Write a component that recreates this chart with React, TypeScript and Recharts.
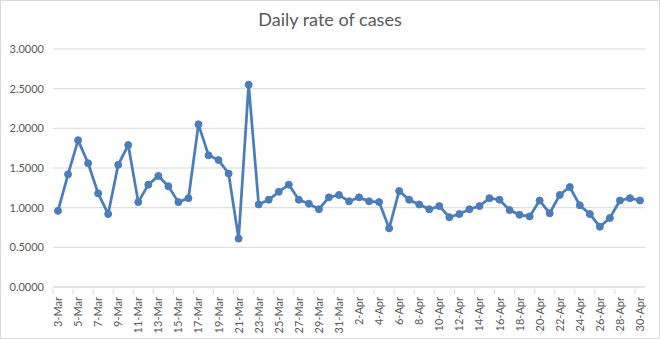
import React from 'react'
import { LineChart, Line, XAxis, YAxis, CartesianGrid } from 'recharts'

// Daily rate of cases, 3-Mar to 30-Apr
const MARCH_DAYS = [3, 4, 5, 6, 7, 8, 9, 10, 11, 12, 13, 14, 15, 16, 17, 18, 19, 20, 21, 22, 23, 24, 25, 26, 27, 28, 29, 30, 31]
const APRIL_DAYS = [1, 2, 3, 4, 5, 6, 7, 8, 9, 10, 11, 12, 13, 14, 15, 16, 17, 18, 19, 20, 21, 22, 23, 24, 25, 26, 27, 28, 29, 30]

const MARCH_RATES = [
  0.96, 1.42, 1.85, 1.56, 1.18, 0.92, 1.54, 1.79, 1.07, 1.29,
  1.4, 1.27, 1.07, 1.12, 2.05, 1.66, 1.6, 1.43, 0.61, 2.55,
  1.04, 1.1, 1.2, 1.29, 1.1, 1.05, 0.98, 1.13, 1.16,
]
const APRIL_RATES = [
  1.08, 1.13, 1.08, 1.07, 0.74, 1.21, 1.1, 1.04, 0.98, 1.02,
  0.88, 0.92, 0.98, 1.02, 1.12, 1.1, 0.97, 0.91, 0.89, 1.09,
  0.93, 1.16, 1.26, 1.03, 0.92, 0.76, 0.87, 1.09, 1.12, 1.09,
]

const Y_TICKS = [0, 0.5, 1, 1.5, 2, 2.5, 3]

const DATA = [
  ...MARCH_DAYS.map((d, i) => ({ day: `${d}-Mar`, rate: MARCH_RATES[i] })),
  ...APRIL_DAYS.map((d, i) => ({ day: `${d}-Apr`, rate: APRIL_RATES[i] })),
]

const FONT = 'Lato, "Liberation Sans", sans-serif'
const TEXT = '#595959'
const GRID = '#d9d9d9'

// rotated label + tick mark on the category boundary (Excel style)
function DateTick(props: any) {
  const { x, y, payload } = props
  return (
    <g>
      <line x1={x - 5} x2={x - 5} y1={y} y2={y + 5} stroke={GRID} />
      <text
        x={x}
        y={y + 8}
        transform={`rotate(-90, ${x}, ${y + 8})`}
        textAnchor="end"
        dy={4}
        fill={TEXT}
        fontSize={11}
        fontFamily={FONT}
      >
        {payload.value}
      </text>
    </g>
  )
}

export default function App() {
  return (
    <div
      style={{
        position: 'absolute',
        left: 0,
        top: 0,
        width: 660,
        height: 339,
        background: '#fff',
      }}
    >
      <div
        style={{
          position: 'absolute',
          top: 8,
          left: 0,
          width: 660,
          textAlign: 'center',
          fontFamily: FONT,
          fontSize: 18,
          color: TEXT,
        }}
      >
        Daily rate of cases
      </div>
      <div style={{ position: 'absolute', left: 0, top: 0 }}>
        <LineChart width={660} height={339} data={DATA} margin={{ top: 49, right: 15, bottom: 0, left: 0 }}>
          <CartesianGrid vertical={false} stroke={GRID} />
          <XAxis
            dataKey="day"
            interval={1}
            stroke={GRID}
            tickLine={false}
            tickSize={0}
            tick={<DateTick />}
            padding={{ left: 5, right: 5 }}
            height={52}
          />
          <YAxis
            domain={[0, 3]}
            ticks={Y_TICKS}
            width={53}
            axisLine={false}
            tickLine={false}
            tickSize={0}
            tickMargin={9}
            tickFormatter={(v) => v.toFixed(4)}
            tick={{ fill: TEXT, fontSize: 11, fontFamily: FONT }}
          />
          <Line
            type="linear"
            dataKey="rate"
            stroke="#4a7ebb"
            strokeWidth={2.75}
            dot={{ r: 3.5, fill: '#4a7ebb', stroke: '#4a7ebb', strokeWidth: 1 }}
            isAnimationActive={false}
          />
        </LineChart>
      </div>
      <div
        style={{
          position: 'absolute',
          left: 0,
          top: 0,
          width: 660,
          height: 339,
          boxSizing: 'border-box',
          border: `1px solid ${GRID}`,
          pointerEvents: 'none',
        }}
      />
    </div>
  )
}
